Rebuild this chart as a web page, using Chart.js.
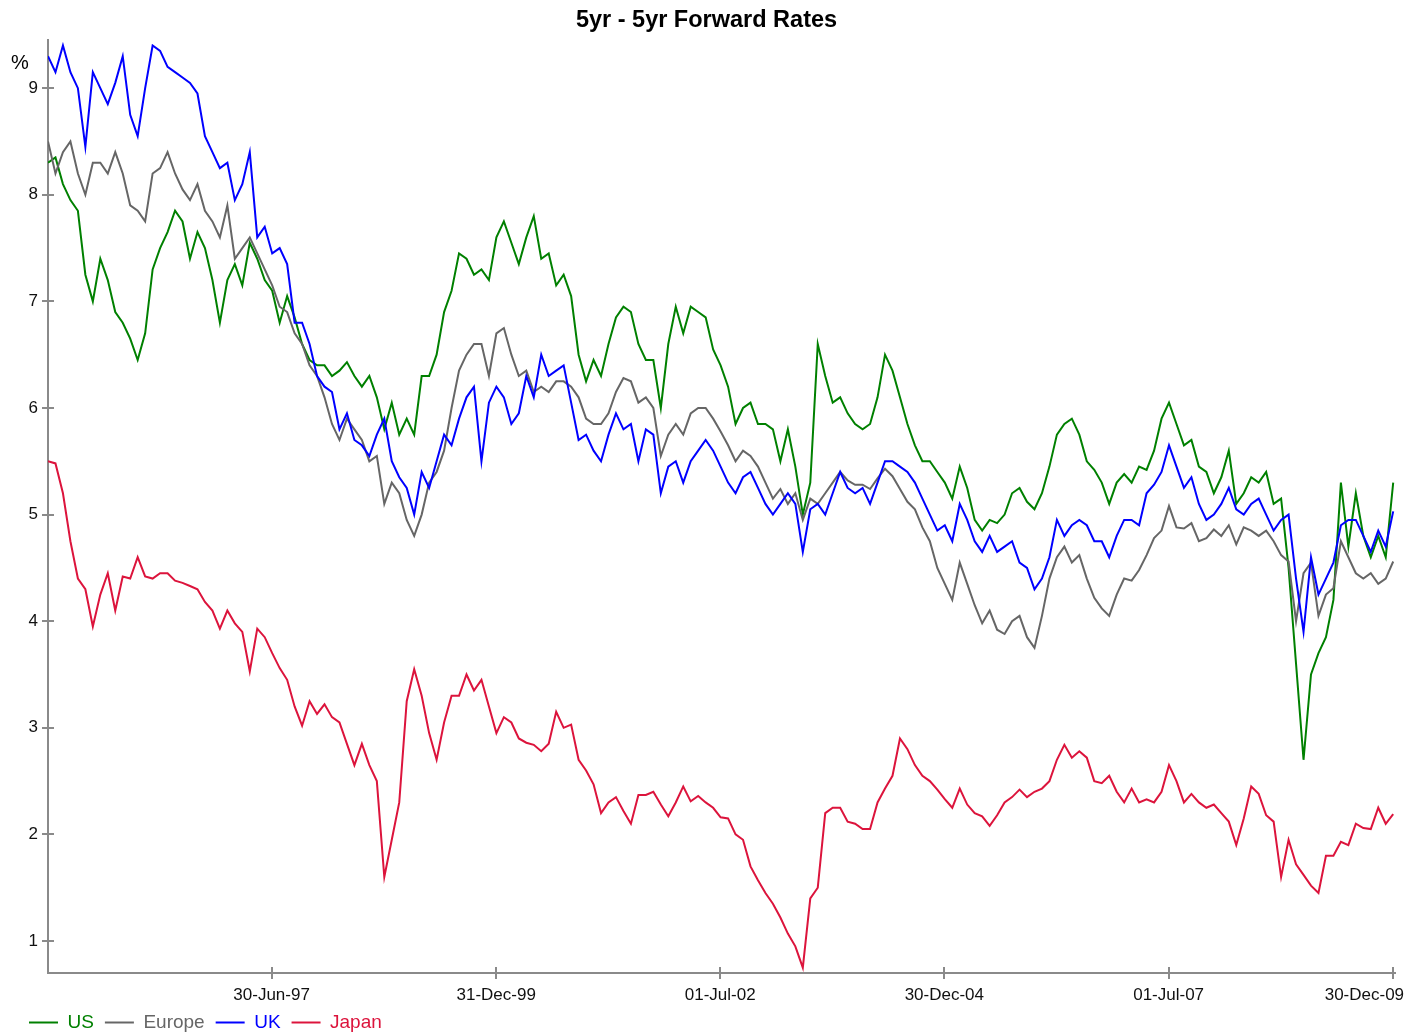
<!DOCTYPE html>
<html>
<head>
<meta charset="utf-8">
<title>5yr - 5yr Forward Rates</title>
<script src="https://cdn.jsdelivr.net/npm/chart.js@4.4.0/dist/chart.umd.min.js"></script>
<style>
  html, body { margin: 0; padding: 0; background: #fff; }
  #wrap { width: 1409px; height: 1033px; position: relative; }
</style>
</head>
<body>
<div id="wrap"><canvas id="chart"></canvas></div>
<script>
// Monthly readings, first value = Jan 1995, last value = Jan 2010
const startYear = 1995;

const usRates = [
  8.3, 8.35, 8.1, 7.95, 7.85, 7.25, 7.0, 7.4, 7.2, 6.9, 6.8, 6.65,       // 1995
  6.45, 6.7, 7.3, 7.5, 7.65, 7.85, 7.75, 7.4, 7.65, 7.5, 7.2, 6.8,       // 1996
  7.2, 7.35, 7.15, 7.55, 7.4, 7.2, 7.1, 6.8, 7.05, 6.85, 6.6, 6.45,      // 1997
  6.4, 6.4, 6.3, 6.35, 6.43, 6.3, 6.2, 6.3, 6.1, 5.8, 6.05, 5.75,        // 1998
  5.9, 5.75, 6.3, 6.3, 6.5, 6.9, 7.1, 7.45, 7.4, 7.25, 7.3, 7.2,        // 1999
  7.6, 7.75, 7.55, 7.35, 7.6, 7.8, 7.4, 7.45, 7.15, 7.25, 7.05, 6.5,    // 2000
  6.25, 6.45, 6.3, 6.6, 6.85, 6.95, 6.9, 6.6, 6.45, 6.45, 6.0, 6.6,     // 2001
  6.95, 6.7, 6.95, 6.9, 6.85, 6.55, 6.4, 6.2, 5.85, 6.0, 6.05, 5.85,    // 2002
  5.85, 5.8, 5.5, 5.8, 5.45, 5.0, 5.3, 6.6, 6.3, 6.05, 6.1, 5.95,       // 2003
  5.85, 5.8, 5.85, 6.1, 6.5, 6.35, 6.1, 5.85, 5.65, 5.5, 5.5, 5.4,      // 2004
  5.3, 5.15, 5.45, 5.25, 4.95, 4.85, 4.95, 4.92, 5.0, 5.2, 5.25, 5.12,  // 2005
  5.05, 5.2, 5.45, 5.75, 5.85, 5.9, 5.75, 5.5, 5.42, 5.3, 5.1, 5.3,     // 2006
  5.38, 5.3, 5.45, 5.42, 5.6, 5.9, 6.05, 5.85, 5.65, 5.7, 5.45, 5.4,    // 2007
  5.2, 5.35, 5.6, 5.1, 5.2, 5.35, 5.3, 5.4, 5.1, 5.15, 4.5, 3.6,        // 2008
  2.7, 3.5, 3.7, 3.85, 4.2, 5.3, 4.7, 5.2, 4.8, 4.6, 4.8, 4.6,          // 2009
  5.3
];

const europeRates = [
  8.5, 8.2, 8.4, 8.5, 8.2, 8.0, 8.3, 8.3, 8.2, 8.4, 8.2, 7.9,
  7.85, 7.75, 8.2, 8.25, 8.4, 8.2, 8.05, 7.95, 8.1, 7.85, 7.75, 7.6,
  7.9, 7.4, 7.5, 7.6, 7.45, 7.3, 7.15, 6.95, 6.9, 6.7, 6.6, 6.4,
  6.3, 6.1, 5.85, 5.7, 5.9, 5.8, 5.7, 5.5, 5.55, 5.1, 5.3, 5.2,
  4.95, 4.8, 5.0, 5.3, 5.4, 5.6, 6.0, 6.35, 6.5, 6.6, 6.6, 6.3,
  6.7, 6.75, 6.5, 6.3, 6.35, 6.15, 6.2, 6.15, 6.25, 6.25, 6.2, 6.1,
  5.9, 5.85, 5.85, 5.95, 6.15, 6.28, 6.25, 6.05, 6.1, 6.0, 5.55, 5.75,
  5.85, 5.75, 5.95, 6.0, 6.0, 5.9, 5.78, 5.65, 5.5, 5.6, 5.55, 5.45,
  5.3, 5.15, 5.24, 5.1, 5.2, 4.95, 5.15, 5.1, 5.2, 5.3, 5.4, 5.32,
  5.28, 5.28, 5.24, 5.34, 5.43, 5.36, 5.24, 5.12, 5.05, 4.88, 4.75, 4.5,
  4.35, 4.2, 4.55, 4.35, 4.15, 3.98, 4.1, 3.92, 3.88, 4.0, 4.05, 3.85,
  3.75, 4.05, 4.4, 4.6, 4.7, 4.55, 4.62, 4.4, 4.22, 4.12, 4.05, 4.25,
  4.4, 4.38, 4.48, 4.62, 4.78, 4.85, 5.08, 4.88, 4.87, 4.92, 4.75, 4.78,
  4.86, 4.8, 4.9, 4.72, 4.88, 4.85, 4.8, 4.85, 4.75, 4.62, 4.56, 4.0,
  4.45, 4.55, 4.05, 4.25, 4.31, 4.75, 4.6, 4.45, 4.4, 4.45, 4.35, 4.4,
  4.56
];

const ukRates = [
  9.3, 9.15, 9.4, 9.15, 9.0, 8.45, 9.15, 9.0, 8.85, 9.05, 9.3, 8.75,
  8.55, 9.0, 9.4, 9.35, 9.2, 9.15, 9.1, 9.05, 8.95, 8.55, 8.4, 8.25,
  8.3, 7.95, 8.1, 8.4, 7.6, 7.7, 7.45, 7.5, 7.35, 6.8, 6.8, 6.6,
  6.3, 6.2, 6.15, 5.8, 5.95, 5.7, 5.65, 5.55, 5.75, 5.9, 5.5, 5.35,
  5.25, 5.0, 5.4, 5.25, 5.5, 5.75, 5.65, 5.9, 6.1, 6.2, 5.5, 6.05,
  6.2, 6.1, 5.85, 5.95, 6.3, 6.1, 6.5, 6.3, 6.35, 6.4, 6.05, 5.7,
  5.75, 5.6, 5.5, 5.75, 5.95, 5.8, 5.85, 5.5, 5.8, 5.75, 5.2, 5.45,
  5.5, 5.3, 5.5, 5.6, 5.7, 5.6, 5.45, 5.3, 5.2, 5.35, 5.4, 5.25,
  5.1, 5.0, 5.1, 5.2, 5.1, 4.65, 5.05, 5.1, 5.0, 5.2, 5.4, 5.25,
  5.2, 5.25, 5.1, 5.3, 5.5, 5.5, 5.45, 5.4, 5.3, 5.15, 5.0, 4.85,
  4.9, 4.75, 5.1, 4.95, 4.75, 4.65, 4.8, 4.65, 4.7, 4.75, 4.55, 4.5,
  4.3, 4.4, 4.6, 4.95, 4.8, 4.9, 4.95, 4.9, 4.75, 4.75, 4.6, 4.8,
  4.95, 4.95, 4.9, 5.2, 5.28, 5.4, 5.65, 5.45, 5.25, 5.35, 5.1, 4.95,
  5.0, 5.1, 5.25, 5.05, 5.0, 5.1, 5.15, 5.0, 4.85, 4.95, 5.0, 4.4,
  3.9, 4.6, 4.25, 4.4, 4.55, 4.9, 4.95, 4.95, 4.8, 4.65, 4.85, 4.7,
  5.03
];

const japanRates = [
  5.5, 5.48, 5.2, 4.75, 4.4, 4.3, 3.95, 4.25, 4.45, 4.1, 4.42, 4.4,
  4.6, 4.42, 4.4, 4.45, 4.45, 4.38, 4.36, 4.33, 4.3, 4.18, 4.1, 3.93,
  4.1, 3.98, 3.9, 3.53, 3.93, 3.85, 3.7, 3.56, 3.45, 3.2, 3.02, 3.25,
  3.13, 3.22, 3.1, 3.05, 2.85, 2.65, 2.85, 2.65, 2.5, 1.6, 1.95, 2.3,
  3.25, 3.55, 3.3, 2.95, 2.7, 3.05, 3.3, 3.3, 3.5, 3.35, 3.45, 3.2,
  2.95, 3.1, 3.05, 2.9, 2.86, 2.84, 2.78, 2.85, 3.15, 3.0, 3.03, 2.7,
  2.6, 2.47, 2.2, 2.3, 2.35, 2.22, 2.1, 2.37, 2.37, 2.4, 2.28, 2.17,
  2.3, 2.45, 2.31, 2.36, 2.3, 2.25, 2.16, 2.15, 2.0, 1.95, 1.7, 1.57,
  1.45, 1.35, 1.22, 1.07, 0.95, 0.75, 1.4, 1.5, 2.2, 2.25, 2.25, 2.12,
  2.1, 2.05, 2.05, 2.3, 2.43, 2.55, 2.9, 2.8, 2.65, 2.55, 2.5, 2.42,
  2.33, 2.25, 2.43, 2.28, 2.2, 2.17, 2.08, 2.18, 2.3, 2.35, 2.42, 2.35,
  2.4, 2.43, 2.5, 2.7, 2.84, 2.72, 2.78, 2.72, 2.5, 2.48, 2.55, 2.4,
  2.3, 2.43, 2.3, 2.33, 2.3, 2.4, 2.65, 2.5, 2.3, 2.38, 2.3, 2.25,
  2.28, 2.2, 2.12, 1.9, 2.15, 2.45, 2.38, 2.18, 2.12, 1.6, 1.95, 1.72,
  1.62, 1.52, 1.45, 1.8, 1.8, 1.93, 1.9, 2.1, 2.06, 2.05, 2.25, 2.1,
  2.19
];

const xTickLabels = ['30-Jun-97', '31-Dec-99', '01-Jul-02', '30-Dec-04', '01-Jul-07', '30-Dec-09'];
const yTickValues = [1, 2, 3, 4, 5, 6, 7, 8, 9];

const MONTHS = ['Jan','Feb','Mar','Apr','May','Jun','Jul','Aug','Sep','Oct','Nov','Dec'];
const FONT = "'Liberation Sans', Arial, sans-serif";
const AXIS_GREY = '#8a8a8a';

// "30-Jun-97" -> fractional year
function labelToYear(lbl) {
    const parts = lbl.split('-');
    const yy = parseInt(parts[2], 10);
    const y = yy < 50 ? 2000 + yy : 1900 + yy;
    const t0 = Date.UTC(y, 0, 1), t1 = Date.UTC(y + 1, 0, 1);
    const t = Date.UTC(y, MONTHS.indexOf(parts[1]), parseInt(parts[0], 10));
    return y + (t - t0) / (t1 - t0);
}

function toPoints(values) {
    return values.map((v, i) => ({ x: startYear + i / 12, y: v }));
}

const xTickPositions = xTickLabels.map(labelToYear);

// small tick marks on the inside of both axes (ticks cross the axis line)
const innerTicks = {
    id: 'innerTicks',
    afterDraw(chart) {
        const { ctx, chartArea, scales } = chart;
        ctx.save();
        ctx.strokeStyle = AXIS_GREY;
        ctx.lineWidth = 2;
        ctx.beginPath();
        yTickValues.forEach(v => {
            const py = Math.round(scales.y.getPixelForValue(v));
            ctx.moveTo(chartArea.left, py);
            ctx.lineTo(chartArea.left + 6, py);
        });
        xTickPositions.forEach(v => {
            const px = Math.round(scales.x.getPixelForValue(v));
            ctx.moveTo(px, chartArea.bottom);
            ctx.lineTo(px, chartArea.bottom - 6);
        });
        ctx.stroke();

        // unit label above the y axis
        ctx.fillStyle = '#000';
        ctx.font = '20px ' + FONT;
        ctx.textAlign = 'center';
        ctx.textBaseline = 'middle';
        ctx.fillText('%', chartArea.left - 28, chartArea.top + 23);
        ctx.restore();
    }
};

const datasets = [
    { label: 'US', data: toPoints(usRates), borderColor: '#008000', order: 4 },
    { label: 'Europe', data: toPoints(europeRates), borderColor: '#666666', order: 3 },
    { label: 'UK', data: toPoints(ukRates), borderColor: '#0000ff', order: 2 },
    { label: 'Japan', data: toPoints(japanRates), borderColor: '#dc143c', order: 1 }
].map(ds => Object.assign(ds, { borderWidth: 2, pointRadius: 0, tension: 0, fill: false }));

new Chart(document.getElementById('chart'), {
    type: 'line',
    data: { datasets },
    plugins: [innerTicks],
    options: {
        responsive: true,
        maintainAspectRatio: false,
        animation: false,
        layout: { padding: { left: 18, right: 14, top: 0, bottom: -9 } },
        plugins: {
            title: {
                display: true,
                text: '5yr - 5yr Forward Rates',
                color: '#000',
                font: { family: FONT, size: 23.5, weight: 'bold' },
                padding: { top: 6, bottom: 6 }
            },
            legend: {
                position: 'bottom',
                align: 'start',
                labels: {
                    boxWidth: 29,
                    boxHeight: 2,
                    padding: 11,
                    font: { family: FONT, size: 19 },
                    generateLabels(chart) {
                        return chart.data.datasets.map((ds, i) => ({
                            text: ds.label,
                            fillStyle: ds.borderColor,
                            strokeStyle: ds.borderColor,
                            fontColor: ds.borderColor,
                            lineWidth: 0,
                            hidden: false,
                            datasetIndex: i
                        }));
                    }
                }
            },
            tooltip: { enabled: false }
        },
        scales: {
            x: {
                type: 'linear',
                min: startYear,
                max: 2010.02,
                afterBuildTicks(scale) {
                    scale.ticks = xTickPositions.map(v => ({ value: v }));
                },
                afterFit(scale) {
                    scale.height = 29;
                    // let the last label hang past the plot instead of shrinking it
                    scale.paddingLeft = 0;
                    scale.paddingRight = 0;
                },
                ticks: {
                    autoSkip: false,
                    maxRotation: 0,
                    padding: 6,
                    color: '#111',
                    font: { family: FONT, size: 17 },
                    // last label is pushed left so it stays inside the canvas
                    callback: (value, index) => index === xTickLabels.length - 1
                        ? xTickLabels[index] + '\u00a0'.repeat(12)
                        : xTickLabels[index]
                },
                grid: { drawOnChartArea: false, drawTicks: true, tickLength: 6, color: AXIS_GREY, lineWidth: 2 },
                border: { color: AXIS_GREY, width: 2 }
            },
            y: {
                min: 0.7,
                max: 9.45,
                afterBuildTicks(scale) {
                    scale.ticks = yTickValues.map(v => ({ value: v }));
                },
                afterFit(scale) {
                    scale.width = 30;
                    scale.paddingTop = 0;
                    scale.paddingBottom = 0;
                },
                ticks: {
                    padding: 4,
                    color: '#111',
                    font: { family: FONT, size: 17 }
                },
                grid: { drawOnChartArea: false, drawTicks: true, tickLength: 6, color: AXIS_GREY, lineWidth: 2 },
                border: { color: AXIS_GREY, width: 2 }
            }
        }
    }
});
</script>
</body>
</html>
